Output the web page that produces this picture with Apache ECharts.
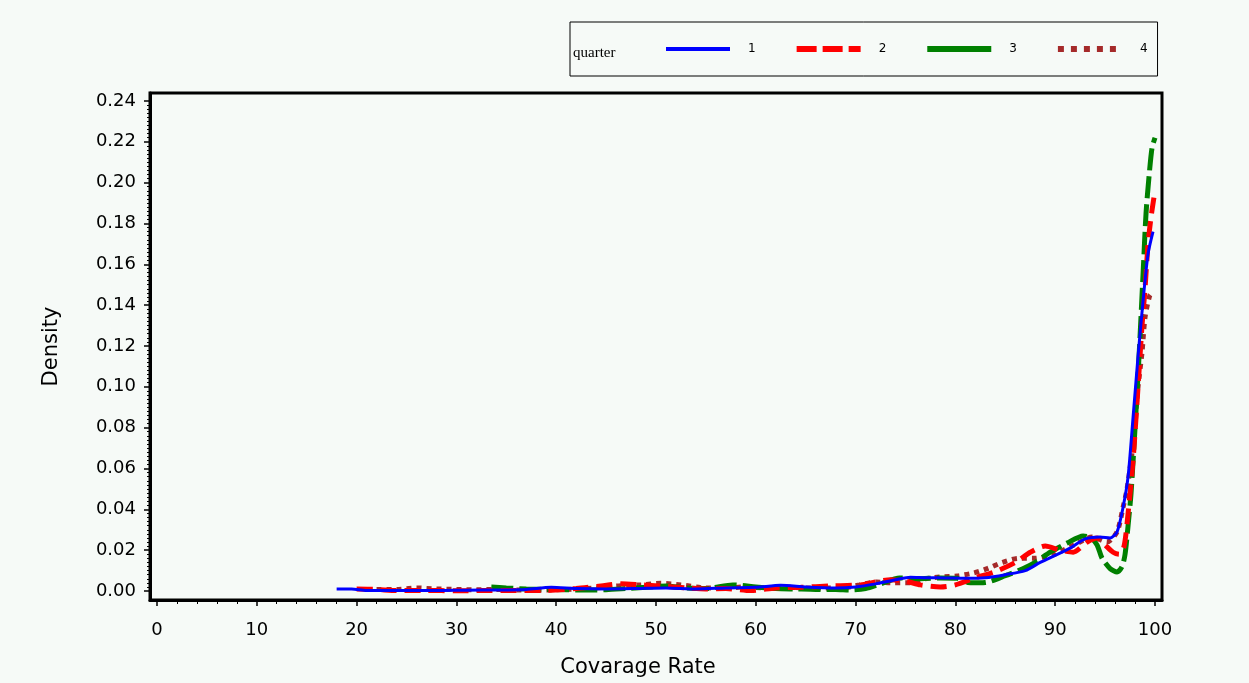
<!DOCTYPE html>
<html>
<head>
<meta charset="utf-8">
<script src="https://cdn.jsdelivr.net/npm/echarts@6/dist/echarts.min.js"></script>
<style>
html,body{margin:0;padding:0;background:#f6faf7;}
#c{width:1249px;height:683px;}
</style>
</head>
<body>
<div id="c"></div>
<script>
// ---- data ----
var seriesNames = ['1', '2', '3', '4'];
var legendTitle = 'quarter';
var xTitle = 'Covarage Rate';
var yTitle = 'Density';
var xTicks = [0, 10, 20, 30, 40, 50, 60, 70, 80, 90, 100];
var yTicks = [0, 0.02, 0.04, 0.06, 0.08, 0.10, 0.12, 0.14, 0.16, 0.18, 0.20, 0.22, 0.24];

var q1X = [18, 19.5, 21, 23, 25, 28, 31, 34, 37, 39.5, 42, 45, 48, 51, 54, 57, 60, 62.5, 65, 68, 70, 72, 74, 75.5, 77, 79, 81, 83, 85, 87, 88.5, 90, 91.5, 93, 94.5, 95.5, 96.2, 96.8, 97.3, 97.8, 98.3, 98.8, 99.3, 99.8];
var q1Y = [0.001, 0.001, 0.0003, 0.0003, 0.0002, 0.0002, 0.0004, 0.0005, 0.0008, 0.0018, 0.0012, 0.001, 0.0012, 0.0015, 0.001, 0.0015, 0.0018, 0.0028, 0.002, 0.0015, 0.002, 0.0035, 0.0055, 0.0068, 0.0065, 0.0064, 0.0062, 0.0065, 0.008, 0.010, 0.014, 0.0175, 0.021, 0.0255, 0.0265, 0.026, 0.029, 0.041, 0.056, 0.085, 0.115, 0.142, 0.165, 0.176];

var q2X = [20, 22, 24, 27, 30, 33, 36, 39, 42, 44.5, 46.5, 48.5, 50.5, 53, 55, 57, 59.5, 62, 64.5, 67.5, 70.5, 72, 73.5, 75, 76.5, 78.5, 80, 82, 84, 86, 87.5, 89, 90.5, 91.8, 93.2, 94.2, 95, 95.8, 96.4, 96.9, 97.3, 97.8, 98.3, 98.7, 99.0, 99.3, 99.6, 99.9];
var q2Y = [0.001, 0.0008, 0.0002, 0.0003, 0.0001, 0.0003, 0.0002, 0.0003, 0.0012, 0.0025, 0.0035, 0.003, 0.0025, 0.0015, 0.001, 0.0012, 0.0002, 0.0015, 0.0018, 0.0025, 0.003, 0.0045, 0.0055, 0.0048, 0.003, 0.002, 0.003, 0.0065, 0.0095, 0.014, 0.019, 0.022, 0.020, 0.019, 0.024, 0.026, 0.0225, 0.019, 0.018, 0.022, 0.038, 0.064, 0.100, 0.130, 0.148, 0.170, 0.183, 0.193];

var q3X = [33.5, 35, 37, 39, 41, 43, 45, 47, 49.5, 51, 53, 55, 57.7, 60, 62, 64, 66, 68, 69.5, 71, 72.5, 74.4, 76.2, 78.5, 80.2, 81.5, 83, 85, 86.8, 88, 89.5, 91.2, 92.8, 93.6, 94.2, 94.7, 95.5, 96.2, 96.7, 97.0, 97.3, 97.6, 98.0, 98.4, 98.8, 99.1, 99.4, 99.7, 100];
var q3Y = [0.002, 0.0015, 0.001, 0.0008, 0.0006, 0.0005, 0.0006, 0.0012, 0.002, 0.0025, 0.0015, 0.0012, 0.003, 0.002, 0.0012, 0.001, 0.0008, 0.0008, 0.0005, 0.0012, 0.0035, 0.0064, 0.006, 0.0064, 0.0062, 0.004, 0.0042, 0.0075, 0.011, 0.014, 0.019, 0.0235, 0.027, 0.026, 0.0225, 0.016, 0.011, 0.0093, 0.012, 0.018, 0.032, 0.048, 0.080, 0.115, 0.155, 0.185, 0.203, 0.217, 0.222];

var q4X = [22, 24, 26, 28, 30, 32, 34, 36, 38, 40, 42, 44, 46, 48.5, 50.5, 52.5, 55, 57, 59, 61, 63, 65, 67, 68.7, 70.4, 72.1, 73.7, 75.4, 77, 78.5, 80.2, 81.8, 83.2, 84.7, 86.3, 87.8, 89.7, 90.8, 92.3, 93.7, 95.2, 96.2, 96.8, 97.2, 97.7, 98.3, 98.7, 99.0, 99.5, 99.9];
var q4Y = [0.0008, 0.0008, 0.0015, 0.001, 0.0008, 0.0006, 0.0008, 0.0005, 0.0004, 0.0006, 0.001, 0.0015, 0.0025, 0.003, 0.0038, 0.003, 0.0015, 0.0015, 0.002, 0.0015, 0.002, 0.0015, 0.0015, 0.0015, 0.003, 0.0044, 0.004, 0.004, 0.006, 0.0069, 0.0074, 0.0088, 0.011, 0.014, 0.016, 0.016, 0.0176, 0.020, 0.0235, 0.0265, 0.024, 0.029, 0.041, 0.050, 0.068, 0.100, 0.117, 0.134, 0.145, 0.146];

// ---- chart ----
function pairs(xs, ys) { return xs.map(function (x, i) { return [x, ys[i]]; }); }
function minorValues(ticks, n) {
  var out = [];
  for (var i = 0; i < ticks.length - 1; i++) {
    var step = (ticks[i + 1] - ticks[i]) / n;
    for (var k = 1; k < n; k++) out.push(+(ticks[i] + k * step).toFixed(6));
  }
  return out;
}
var allX = [q1X, q2X, q3X, q4X];
var allY = [q1Y, q2Y, q3Y, q4Y];
var colors = ['#0000ff', '#ff0000', '#008000', '#a52a2a'];
var widths = [3, 5, 5, 5];
var dashes = ['solid', [16, 8], [22, 6], [5, 5]];
var legendStyles = [
  {width: 4, type: 'solid'},
  {width: 6, type: [20, 6]},
  {width: 6, type: 'solid'},
  {width: 6, type: [6, 7]}
];

var chart = echarts.init(document.getElementById('c'), null, {renderer: 'canvas'});
var series = seriesNames.map(function (n, i) {
  return {
    name: n,
    type: 'line',
    xAxisIndex: 0, yAxisIndex: 0,
    data: pairs(allX[i], allY[i]),
    symbol: 'none',
    showSymbol: false,
    smooth: 0.25,
    color: colors[i],
    lineStyle: {color: colors[i], width: widths[i], type: dashes[i], cap: 'butt'},
    z: 10 - i
  };
});

var FONT = '"DejaVu Sans", "Liberation Sans", Arial, sans-serif';
var XMIN = -0.7, XMAX = 100.7, YMIN = -0.0044, YMAX = 0.2439;

chart.setOption({
  backgroundColor: '#f6faf7',
  animation: false,
  grid: {left: 150, right: 87, top: 93, bottom: 83, containLabel: false,
         show: true, borderColor: '#000', borderWidth: 3, backgroundColor: 'transparent'},
  legend: {
    data: seriesNames.map(function (n, i) {
      return {name: n, itemStyle: {opacity: 0}, lineStyle: Object.assign({color: colors[i], cap: 'butt'}, legendStyles[i])};
    }),
    left: 570, top: 22,
    padding: [21, 10, 21, 94],
    itemWidth: 64, itemHeight: 14, itemGap: 38,
    borderColor: '#000', borderWidth: 1,
    itemStyle: {opacity: 0},
    textStyle: {color: '#000', fontSize: 12, fontFamily: FONT, padding: [0, 0, 0, 13]},
    selectedMode: false
  },
  graphic: [
    {type: 'text', left: 573, top: 46, style: {text: legendTitle, fill: '#000', font: '15px "Liberation Serif", "DejaVu Serif", serif'}}
  ],
  xAxis: [{
    type: 'value', min: XMIN, max: XMAX, position: 'bottom',
    name: xTitle, nameLocation: 'middle', nameGap: 57,
    nameTextStyle: {color: '#000', fontSize: 21, fontFamily: FONT, padding: [0, 36, 0, 0]},
    axisLine: {show: true, onZero: false, lineStyle: {color: '#000', width: 3}},
    axisTick: {show: true, inside: false, length: 6, customValues: xTicks, lineStyle: {color: '#000', width: 1.5}},
    axisLabel: {margin: 21, color: '#000', fontSize: 18, fontFamily: FONT, customValues: xTicks},
    splitLine: {show: false}
  }, {
    type: 'value', min: XMIN, max: XMAX, position: 'bottom',
    axisLine: {show: false, onZero: false},
    axisTick: {show: true, inside: false, length: 4, customValues: minorValues(xTicks, 5), lineStyle: {color: '#000', width: 1}},
    axisLabel: {show: false},
    splitLine: {show: false}
  }],
  yAxis: [{
    type: 'value', min: YMIN, max: YMAX, position: 'left',
    name: yTitle, nameLocation: 'middle', nameGap: 88, nameRotate: 90,
    nameTextStyle: {color: '#000', fontSize: 21, fontFamily: FONT},
    axisLine: {show: true, onZero: false, lineStyle: {color: '#000', width: 3}},
    axisTick: {show: true, inside: false, length: 6, customValues: yTicks, lineStyle: {color: '#000', width: 1.5}},
    axisLabel: {margin: 14, color: '#000', fontSize: 18, fontFamily: FONT, customValues: yTicks,
                formatter: function (v) { return v.toFixed(2); }},
    splitLine: {show: false}
  }, {
    type: 'value', min: YMIN, max: YMAX, position: 'left',
    axisLine: {show: false, onZero: false},
    axisTick: {show: true, inside: false, length: 3, customValues: minorValues(yTicks, 10), lineStyle: {color: '#000', width: 1}},
    axisLabel: {show: false},
    splitLine: {show: false}
  }],
  series: series
});
</script>
</body>
</html>
